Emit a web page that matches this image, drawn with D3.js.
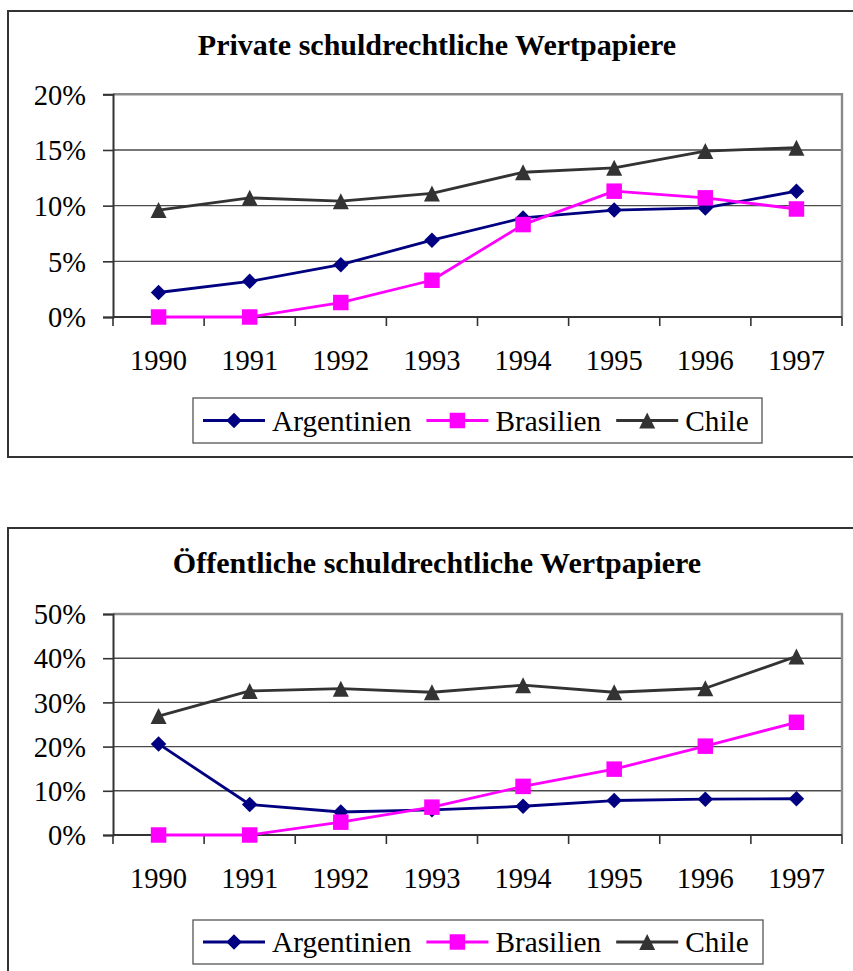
<!DOCTYPE html>
<html>
<head>
<meta charset="utf-8">
<script src="https://cdn.jsdelivr.net/npm/d3@7"></script>
<style>
  html, body { margin: 0; padding: 0; background: #fff; }
  svg { display: block; }
  text { font-family: "Liberation Serif", "Times New Roman", serif; fill: #000; }
</style>
</head>
<body>
<svg id="chart" width="853" height="971"></svg>
<script>
// Years on the category axis
const years = ["1990", "1991", "1992", "1993", "1994", "1995", "1996", "1997"];
const seriesNames = ["Argentinien", "Brasilien", "Chile"];

// Private debt securities (share, %)
const privArgentinien = [2.2, 3.2, 4.7, 6.9, 8.9, 9.6, 9.8, 11.3];
const privBrasilien   = [0.0, 0.0, 1.3, 3.3, 8.3, 11.3, 10.7, 9.7];
const privChile       = [9.6, 10.7, 10.4, 11.1, 13.0, 13.4, 14.9, 15.2];
const privTicks = [0, 5, 10, 15, 20];

// Public debt securities (share, %)
const pubArgentinien = [20.6, 6.9, 5.2, 5.7, 6.5, 7.8, 8.1, 8.2];
const pubBrasilien   = [0.0, 0.0, 2.9, 6.3, 11.0, 14.9, 20.1, 25.5];
const pubChile       = [26.9, 32.6, 33.1, 32.3, 33.9, 32.3, 33.2, 40.4];
const pubTicks = [0, 10, 20, 30, 40, 50];

// Marker shapes
const diamond = {
  draw(ctx, size) {
    const r = Math.sqrt(size) / 2;
    ctx.moveTo(0, -r); ctx.lineTo(r, 0); ctx.lineTo(0, r); ctx.lineTo(-r, 0); ctx.closePath();
  }
};
const square = {
  draw(ctx, size) {
    const r = Math.sqrt(size) / 2;
    ctx.rect(-r, -r, 2 * r, 2 * r);
  }
};
const triangle = {
  draw(ctx, size) {
    const r = Math.sqrt(size) / 2;
    ctx.moveTo(0, -r); ctx.lineTo(r, r); ctx.lineTo(-r, r); ctx.closePath();
  }
};

const styles = [
  { color: "#000080", symbol: diamond, size: 15.5 },
  { color: "#FF00FF", symbol: square, size: 15.5 },
  { color: "#333333", symbol: triangle, size: 16 }
];

const svg = d3.select("#chart");

function drawChart(cfg) {
  const g = svg.append("g");

  // Outer frame
  g.append("rect")
    .attr("x", cfg.frame.x).attr("y", cfg.frame.y)
    .attr("width", cfg.frame.w).attr("height", cfg.frame.h)
    .attr("fill", "#fff").attr("stroke", "#333").attr("stroke-width", 2);

  // Title
  g.append("text")
    .attr("x", cfg.titleX).attr("y", cfg.titleY)
    .attr("text-anchor", "middle")
    .attr("font-size", 30).attr("font-weight", "bold")
    .text(cfg.title);

  const p = cfg.plot;
  const x = d3.scaleBand().domain(years).range([p.left, p.right]);
  const y = d3.scaleLinear().domain([0, d3.max(cfg.ticks)]).range([p.bottom, p.top]);

  // Gridlines
  g.append("g").selectAll("line")
    .data(cfg.ticks.filter(t => t > 0 && t < d3.max(cfg.ticks)))
    .join("line")
    .attr("x1", p.left).attr("x2", p.right)
    .attr("y1", d => y(d)).attr("y2", d => y(d))
    .attr("stroke", "#4a4a4a").attr("stroke-width", 1.4);

  // Plot area border (top and right in grey)
  g.append("path")
    .attr("d", `M${p.left},${y(d3.max(cfg.ticks))}H${p.right}V${p.bottom}`)
    .attr("fill", "none").attr("stroke", "#8a8a8a").attr("stroke-width", 2.4);

  // Y axis
  const yAxis = d3.axisLeft(y).tickValues(cfg.ticks)
    .tickFormat(d => d + "%").tickSize(10).tickPadding(17);
  const ya = g.append("g").attr("transform", `translate(${p.left},0)`).call(yAxis);
  ya.select(".domain").attr("stroke", "#333").attr("stroke-width", 2);
  ya.selectAll(".tick line").attr("stroke", "#333").attr("stroke-width", 1.6);
  ya.selectAll(".tick text").attr("font-size", 28.5)
    .attr("font-family", "Liberation Serif, Times New Roman, serif")
    .attr("dy", "0.34em");

  // X axis: ticks at category boundaries, labels centred in each band
  const xa = g.append("g").attr("transform", `translate(0,${p.bottom})`);
  xa.append("line").attr("x1", p.left).attr("x2", p.right)
    .attr("stroke", "#333").attr("stroke-width", 2);
  const bounds = years.map(d => x(d)).concat([x(years[years.length - 1]) + x.bandwidth()]);
  xa.selectAll("line.tk").data(bounds).join("line").attr("class", "tk")
    .attr("x1", d => d).attr("x2", d => d).attr("y1", 0).attr("y2", 9)
    .attr("stroke", "#333").attr("stroke-width", 1.6);
  xa.selectAll("text").data(years).join("text")
    .attr("x", d => x(d) + x.bandwidth() / 2).attr("y", 53)
    .attr("text-anchor", "middle").attr("font-size", 28.5)
    .text(d => d);

  // Series lines and markers
  const line = d3.line()
    .x((d, i) => x(years[i]) + x.bandwidth() / 2)
    .y(d => y(d));
  cfg.series.forEach((vals, si) => {
    const st = styles[si];
    const sg = g.append("g");
    sg.append("path").datum(vals).attr("d", line)
      .attr("fill", "none").attr("stroke", st.color).attr("stroke-width", 2.8)
      .attr("stroke-linejoin", "round");
    sg.selectAll("path.m").data(vals).join("path").attr("class", "m")
      .attr("transform", (d, i) => `translate(${x(years[i]) + x.bandwidth() / 2},${y(d)})`)
      .attr("d", d3.symbol().type(st.symbol).size(st.size * st.size))
      .attr("fill", st.color);
  });

  // Legend
  const L = cfg.legend;
  const lg = g.append("g");
  lg.append("rect").attr("x", L.x).attr("y", L.y).attr("width", L.w).attr("height", L.h)
    .attr("fill", "#fff").attr("stroke", "#555").attr("stroke-width", 1.3);
  let cx = L.x + 10;
  const cy = L.y + L.h / 2;
  seriesNames.forEach((name, si) => {
    const st = styles[si];
    lg.append("line").attr("x1", cx).attr("x2", cx + 62).attr("y1", cy).attr("y2", cy)
      .attr("stroke", st.color).attr("stroke-width", 2.8);
    lg.append("path").attr("transform", `translate(${cx + 31},${cy})`)
      .attr("d", d3.symbol().type(st.symbol).size(st.size * st.size))
      .attr("fill", st.color);
    const t = lg.append("text").attr("x", cx + 69).attr("y", cy + 10)
      .attr("font-size", 29.3).text(name);
    cx += 69 + t.node().getComputedTextLength() + 15;
  });
}

drawChart({
  title: "Private schuldrechtliche Wertpapiere",
  frame: { x: 8, y: 11, w: 860, h: 446 },
  titleX: 437, titleY: 55,
  plot: { left: 113, right: 842, top: 94.3, bottom: 317 },
  ticks: privTicks,
  series: [privArgentinien, privBrasilien, privChile],
  legend: { x: 193, y: 398, w: 569, h: 45 }
});

drawChart({
  title: "Öffentliche schuldrechtliche Wertpapiere",
  frame: { x: 8, y: 528, w: 860, h: 452 },
  titleX: 437, titleY: 573,
  plot: { left: 113, right: 842, top: 614, bottom: 835 },
  ticks: pubTicks,
  series: [pubArgentinien, pubBrasilien, pubChile],
  legend: { x: 193, y: 920, w: 570, h: 44 }
});
</script>
</body>
</html>
